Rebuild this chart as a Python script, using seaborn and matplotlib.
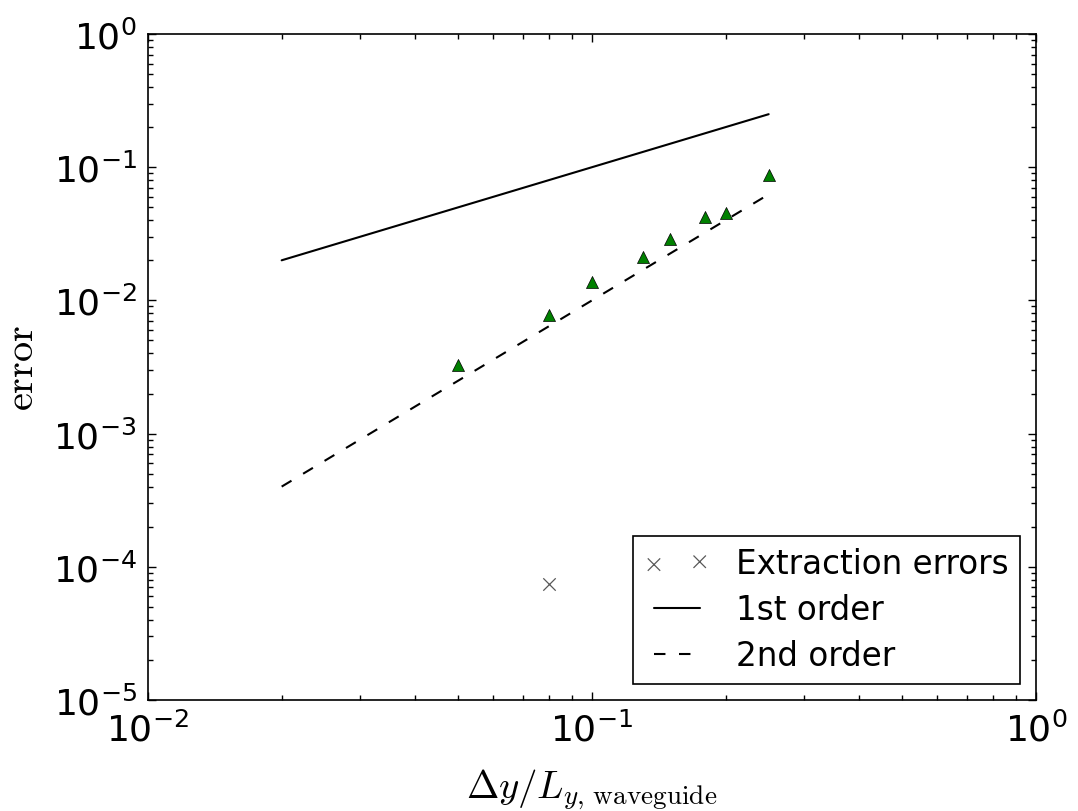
import matplotlib
matplotlib.use("Agg")
import seaborn as sns
from matplotlib import pyplot as plt

# convergence data
dy = [0.05, 0.08, 0.1, 0.13, 0.15, 0.18, 0.2, 0.25]
err = [0.00327, 0.00777, 0.0137, 0.0212, 0.0289, 0.0423, 0.0453, 0.0874]
extract_dy = [0.08]
extract_err = [7.4e-5]
ref_dy = [0.02, 0.25]
first_order = [0.02, 0.25]
second_order = [0.0004, 0.0625]

sns.set_style("white", rc={'text.color': 'black', 'axes.labelcolor': 'black',
                           'xtick.color': 'black', 'ytick.color': 'black'})
plt.rcParams['font.family'] = ['DejaVu Sans']
plt.rcParams['mathtext.fontset'] = 'cm'
plt.rcParams['axes.unicode_minus'] = False

fig = plt.figure(figsize=(10.78, 8.12), dpi=100)
ax = fig.add_axes([0.1373, 0.1367, 0.961 - 0.1373, 0.9569 - 0.1367])

sns.scatterplot(x=extract_dy, y=extract_err, marker='x', s=80, color='0.35',
                linewidth=0.9, ax=ax, label='Extraction errors', legend=False)
sns.lineplot(x=ref_dy, y=first_order, color='black', linewidth=1.5,
             ax=ax, label='1st order', legend=False)
sns.lineplot(x=ref_dy, y=second_order, color='black', linewidth=1.5,
             ax=ax, label='2nd order', legend=False)
ax.lines[-1].set_dashes([5.5, 6.5])
sns.scatterplot(x=dy, y=err, marker='^', s=75, color='green',
                edgecolor='black', linewidth=0.5, ax=ax, legend=False, zorder=3)

ax.set_xscale('log')
ax.set_yscale('log')
ax.set_xlim(1e-2, 1)
ax.set_ylim(1e-5, 1)

ax.tick_params(which='both', direction='in', top=True, right=True,
               bottom=True, left=True, width=1, labelsize=26, pad=8)
ax.tick_params(which='major', length=6)
ax.tick_params(which='minor', length=3.5)
for sp in ax.spines.values():
    sp.set_linewidth(1.2)
    sp.set_color('black')

ax.set_xlabel(r'$\Delta y/L_{y,\,\mathrm{waveguide}}$', fontsize=28, labelpad=14)
ax.set_ylabel(r'$\mathrm{error}$', fontsize=29, labelpad=8)

handles, labels = ax.get_legend_handles_labels()
leg = ax.legend(handles, labels, loc='lower right', fontsize=23.5, scatterpoints=2,
                numpoints=2, fancybox=False, framealpha=1, edgecolor='black',
                borderaxespad=0.5, handlelength=2, borderpad=0.35,
                labelspacing=0.4)
leg.get_frame().set_linewidth(1.2)

fig.savefig('out.png', dpi=100)
